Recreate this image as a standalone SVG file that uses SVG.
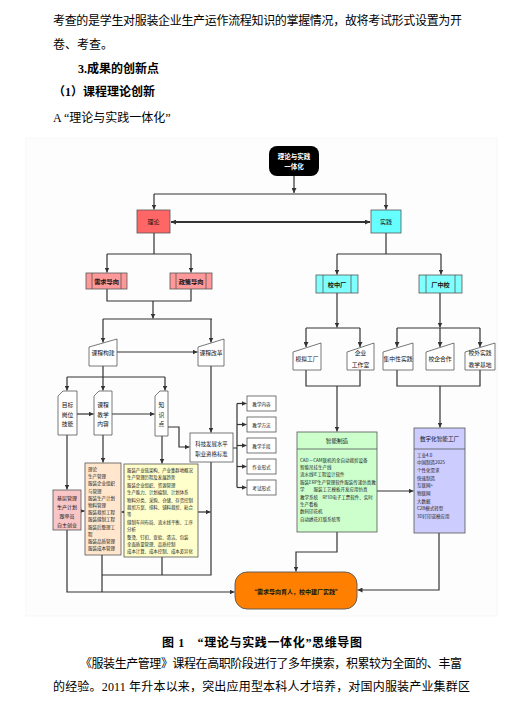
<svg xmlns="http://www.w3.org/2000/svg" width="521" height="710" viewBox="0 0 521 710">
<defs>
<marker id="ah" viewBox="0 0 10 10" refX="10" refY="5" markerWidth="5" markerHeight="5" markerUnits="userSpaceOnUse" orient="auto-start-reverse"><path d="M0,0 L10,5 L0,10 z" fill="#333"/></marker>
<style>
.p{font-family:"Liberation Serif","Noto Sans CJK SC",serif;font-size:12px;fill:#000}
.b{font-weight:bold}
.t{font-family:"Noto Sans CJK SC","Noto Sans",sans-serif;fill:#111;text-anchor:middle}
.s{font-family:"Noto Sans CJK SC","Noto Sans",sans-serif;fill:#222}
.ln{fill:none;stroke:#333;stroke-width:1.2}
.ar{fill:none;stroke:#333;stroke-width:1.2;marker-end:url(#ah)}
.bx{stroke:#555;stroke-width:0.8}
</style>
</defs>
<rect width="521" height="710" fill="#fff"/>
<text class="p" x="53" y="25" textLength="409" lengthAdjust="spacing">考查的是学生对服装企业生产运作流程知识的掌握情况，故将考试形式设置为开</text>
<text class="p" x="53" y="49">卷、考查。</text>
<text class="p b" x="78" y="73">3.成果的创新点</text>
<text class="p b" x="53" y="96">（1）课程理论创新</text>
<text class="p" x="53" y="122">A “理论与实践一体化”</text>
<rect x="26" y="138" width="471" height="478" fill="#FDFDFD" stroke="#F4F4F4" stroke-width="0.8"/>

<g id="connectors">
<path class="ar" d="M294,176 V193"/>
<path class="ln" d="M154,194 H386"/>
<path class="ar" d="M154,194 V209.5"/>
<path class="ar" d="M386,194 V209.5"/>
<path d="M171,222 H370" fill="none" stroke="#333" stroke-width="1.8" marker-start="url(#ah)" marker-end="url(#ah)"/>
<path class="ln" d="M154,233 V254 M107,254 H191"/>
<path class="ar" d="M107,254 V272.5"/>
<path class="ar" d="M191,254 V272.5"/>
<path class="ln" d="M386,233 V254 M337,254 H441"/>
<path class="ar" d="M337,254 V274.5"/>
<path class="ar" d="M441,254 V274.5"/>
<path class="ln" d="M107,289 V301 H191 V289 M103,319 H212"/>
<path class="ar" d="M153,301 V318.5"/>
<path class="ar" d="M103,319 V342.5"/>
<path class="ar" d="M211,319 V342.5"/>
<path class="ar" d="M117,352 H197.5"/>
<path class="ln" d="M103,366 V377 M67,377 H165"/>
<path class="ar" d="M67,377 V390.5"/>
<path class="ar" d="M103,377 V390.5"/>
<path class="ar" d="M165,377 V390.5"/>
<path class="ar" d="M211,366 V432.5"/>
<path class="ar" d="M77,414 H93.5"/>
<path class="ar" d="M112,414 H154.5"/>
<path class="ar" d="M168,427 H179 V447 H189.5"/>
<path class="ln" d="M233,448 H237 M237,403.5 V487.5"/>
<path class="ar" d="M237,403.5 H246.5"/>
<path class="ar" d="M237,424.5 H246.5"/>
<path class="ar" d="M237,445.5 H246.5"/>
<path class="ar" d="M237,466.5 H246.5"/>
<path class="ar" d="M237,487.5 H246.5"/>
<path class="ar" d="M67,435 V489.5"/>
<path class="ar" d="M103,435 V462.5"/>
<path class="ar" d="M162,436 V463.5"/>
<path class="ar" d="M79,511 H84.5"/>
<path class="ar" d="M124,512 H121.5"/>
<path class="ar" d="M198,512 H210.5"/>
<path class="ln" d="M211,462 V575 H102 M102,555 V592 M162,557 V575"/>
<path class="ar" d="M67,530 V592 H234.5"/>
<path class="ar" d="M337,293 V327.5"/>
<path class="ln" d="M306,328 H360 M397,328 H480"/>
<path class="ar" d="M306,328 V347"/>
<path class="ar" d="M360,328 V347"/>
<path class="ar" d="M440,293 V327.5"/>
<path class="ar" d="M397,328 V347"/>
<path class="ar" d="M440,328 V347"/>
<path class="ar" d="M480,328 V347"/>
<path class="ln" d="M306,370 V386 H360 V370 M397,370 V386 H480 V370"/>
<path class="ar" d="M337,386 V431.5"/>
<path class="ar" d="M440,386 V427.5"/>
<path class="ar" d="M377,491 H413.5"/>
<path class="ar" d="M337,532 V552 H296 V571.5"/>
<path class="ar" d="M439,533 V590 H357.5"/>
</g>

<g id="n-top"><rect x="269" y="146" width="50" height="30" rx="8" fill="#000"/>
<text class="t b" x="294" y="159" font-size="6.5" style="fill:#fff">理论与实践</text>
<text class="t b" x="294" y="169" font-size="6.5" style="fill:#fff">一体化</text></g>

<g id="n-lilun"><rect class="bx" x="137" y="210" width="33" height="23" fill="#FF6666"/><text class="t" x="153.5" y="224" font-size="6">理论</text></g>
<g id="n-shijian"><rect class="bx" x="371" y="210" width="30" height="23" fill="#66FFFF"/><text class="t" x="386" y="224" font-size="6">实践</text></g>

<g id="n-xuqiu"><rect class="bx" x="86" y="273" width="41" height="16" fill="#FF9999"/><path class="bx" d="M92,273 V289 M121,273 V289" fill="none"/><text class="t b" x="106.5" y="283.5" font-size="6.2">需求导向</text></g>
<g id="n-zhengce"><rect class="bx" x="170" y="273" width="42" height="16" fill="#FF9999"/><path class="bx" d="M176,273 V289 M206,273 V289" fill="none"/><text class="t b" x="191" y="283.5" font-size="6.2">政策导向</text></g>
<g id="n-xiaozhongchang"><rect class="bx" x="316" y="275" width="42" height="18" fill="#80FFFF"/><path class="bx" d="M323,275 V293 M351,275 V293" fill="none"/><text class="t b" x="337" y="286.5" font-size="6.2">校中厂</text></g>
<g id="n-changzhongxiao"><rect class="bx" x="419" y="275" width="43" height="18" fill="#80FFFF"/><path class="bx" d="M426,275 V293 M455,275 V293" fill="none"/><text class="t b" x="440.5" y="286.5" font-size="6.2">厂中校</text></g>

<g id="n-goujian"><polygon class="bx" points="89,347 117,339 117,366 89,366" fill="#fff"/><text class="t" x="103" y="355" font-size="5.8">课程构建</text></g>
<g id="n-gaige"><polygon class="bx" points="198,347 224,339 224,366 198,366" fill="#fff"/><text class="t" x="211" y="355" font-size="5.8">课程改革</text></g>
<g id="n-moni"><polygon class="bx" points="293,352 321,343 321,370 293,370" fill="#fff"/><text class="t" x="307" y="361" font-size="5.8">模拟工厂</text></g>
<g id="n-qiye"><polygon class="bx" points="347,352 374,343 374,370 347,370" fill="#fff"/><text class="t" x="360.5" y="355" font-size="5.8">企业</text><text class="t" x="360.5" y="367" font-size="5.8">工作室</text></g>
<g id="n-jizhong"><polygon class="bx" points="383,352 413,343 413,370 383,370" fill="#fff"/><text class="t" x="398" y="361" font-size="5.8">集中性实践</text></g>
<g id="n-xiaoqi"><polygon class="bx" points="426,352 454,343 454,370 426,370" fill="#fff"/><text class="t" x="440" y="361" font-size="5.8">校企合作</text></g>
<g id="n-xiaowai"><polygon class="bx" points="465,352 495,343 495,370 465,370" fill="#fff"/><text class="t" x="480" y="355" font-size="5.8">校外实践</text><text class="t" x="480" y="367" font-size="5.8">教学基地</text></g>

<g id="n-mubiao"><path class="bx" d="M58,396 L63,391 H77 V435 H58 Z" fill="#fff"/><text class="t" x="67.5" y="407" font-size="5.8">目标</text><text class="t" x="67.5" y="416.5" font-size="5.8">岗位</text><text class="t" x="67.5" y="426" font-size="5.8">技能</text></g>
<g id="n-jiaoxue"><path class="bx" d="M94,396 L99,391 H112 V435 H94 Z" fill="#fff"/><text class="t" x="103" y="407" font-size="5.8">课程</text><text class="t" x="103" y="416.5" font-size="5.8">教学</text><text class="t" x="103" y="426" font-size="5.8">内容</text></g>
<g id="n-zhishi"><path class="bx" d="M155,396 L160,391 H168 V436 H155 Z" fill="#fff"/><text class="t" x="161.5" y="407" font-size="5.8">知</text><text class="t" x="161.5" y="416.5" font-size="5.8">识</text><text class="t" x="161.5" y="426" font-size="5.8">点</text></g>

<g id="n-keji"><rect class="bx" x="190" y="433" width="43" height="29" fill="#fff"/><text class="t" x="211.5" y="446" font-size="5.4">科技发展水平</text><text class="t" x="211.5" y="456" font-size="5.4">职业资格标准</text></g>
<g id="n-neirong"><rect class="bx" x="247" y="396" width="29" height="15" fill="#fff"/><text class="t" x="261.5" y="405.5" font-size="4.6">教学内容</text></g>
<g id="n-fangfa"><rect class="bx" x="247" y="417" width="29" height="15" fill="#fff"/><text class="t" x="261.5" y="426.5" font-size="4.6">教学方法</text></g>
<g id="n-shouduan"><rect class="bx" x="247" y="438" width="29" height="15" fill="#fff"/><text class="t" x="261.5" y="447.5" font-size="4.6">教学手段</text></g>
<g id="n-zuoye"><rect class="bx" x="247" y="459" width="29" height="15" fill="#fff"/><text class="t" x="261.5" y="468.5" font-size="4.6">作业形式</text></g>
<g id="n-kaoshi"><rect class="bx" x="247" y="480" width="29" height="15" fill="#fff"/><text class="t" x="261.5" y="489.5" font-size="4.6">考试形式</text></g>

<g id="n-jiceng"><rect class="bx" x="53" y="490" width="28" height="40" fill="#F8C6C6"/>
<text class="t" x="67" y="500" font-size="5">基层管理</text><text class="t" x="67" y="509" font-size="5">生产计划</text><text class="t" x="67" y="518" font-size="5">跟单员</text><text class="t" x="67" y="527" font-size="5">自主创业</text></g>

<g id="n-lilunke" class="s" font-size="4.5"><rect class="bx" x="85" y="463" width="36" height="92" fill="#FFE6CC"/>
<text x="88" y="471">理论</text><text x="88" y="478.2">生产管理</text><text x="88" y="485.4">服装企业组织</text><text x="88" y="492.6">与管理</text><text x="88" y="499.8">服装生产计划</text><text x="88" y="507">物料管理</text><text x="88" y="514.2">服装裁剪工程</text><text x="88" y="521.4">服装缝制工程</text><text x="88" y="528.6">服装后整理工</text><text x="88" y="535.8">程</text><text x="88" y="543">服装品质管理</text><text x="88" y="550.2">服装成本管理</text></g>

<g id="n-zhishidian" class="s" font-size="4.4"><rect class="bx" x="124" y="464" width="74" height="93" fill="#FFFFCC"/>
<text x="127" y="472">服装产业链架构、产业集群地概况</text><text x="127" y="479.4">生产管理历程及发展趋势</text><text x="127" y="486.8">服装企业组织、资源管理</text><text x="127" y="494.2">生产能力、计划编制、计划体系</text><text x="127" y="501.6">物料分类、采购、仓储、存货控制</text><text x="127" y="509">裁剪方案、排料、铺料裁剪、粘合</text><text x="127" y="516.4">等</text><text x="127" y="523.8">缝制车间布局、流水线平衡、工序</text><text x="127" y="531.2">分析</text><text x="127" y="538.6">整烫、钉扣、查验、清洁、包装</text><text x="127" y="546">全面质量管理、品质控制</text><text x="127" y="553.4">成本计算、成本控制、成本差异化</text></g>

<g id="n-zhineng"><rect class="bx" x="297" y="432" width="80" height="100" fill="#CCFFCC"/><path class="bx" d="M297,449 H377" fill="none"/>
<text class="t" x="337" y="443" font-size="5.6">智能制造</text>
<g class="s" font-size="4.5"><text x="300" y="461.5">CAD－CAM联机的全自动裁剪设备</text><text x="300" y="468.9">智能吊挂生产线</text><text x="300" y="476.3">流水线IE工程设计软件</text><text x="300" y="483.7">服装ERP生产管理软件服装传递仿真教</text><text x="300" y="491.1">学　　服装工艺模板开发应用仿真</text><text x="300" y="498.5">教学系统　RFID电子工票软件、实时</text><text x="300" y="505.9">生产看板</text><text x="300" y="513.3">数码印花机</text><text x="300" y="520.7">自动绣花打版系统等</text></g></g>

<g id="n-shuzihua"><rect class="bx" x="414" y="428" width="51" height="105" fill="#CCCCFF"/><path class="bx" d="M414,449 H465" fill="none"/>
<text class="t" x="439.5" y="441" font-size="5.6">数字化智能工厂</text>
<g class="s" font-size="4.5"><text x="417" y="456.5">工业4.0</text><text x="417" y="464.2">中国制造2025</text><text x="417" y="471.9">个性化需求</text><text x="417" y="479.6">快速制造</text><text x="417" y="487.3">互联网+</text><text x="417" y="495">物联网</text><text x="417" y="502.7">大数据</text><text x="417" y="510.4">C2B模式转型</text><text x="417" y="518.1">3D打印逆模应用</text></g></g>

<g id="n-result"><rect x="235" y="572" width="122" height="37" rx="12" fill="#FF8000" stroke="#555" stroke-width="0.9"/><text class="t b" x="296" y="594" font-size="6">“需求导向育人，校中建厂实践”</text></g>

<text class="p b" x="162" y="647" textLength="200" lengthAdjust="spacing">图 1　“理论与实践一体化”思维导图</text>
<text class="p" x="80" y="668" textLength="382" lengthAdjust="spacing">《服装生产管理》课程在高职阶段进行了多年摸索，积累较为全面的、丰富</text>
<text class="p" x="53" y="691" textLength="417" lengthAdjust="spacing">的经验。2011 年升本以来，突出应用型本科人才培养，对国内服装产业集群区</text>
</svg>
